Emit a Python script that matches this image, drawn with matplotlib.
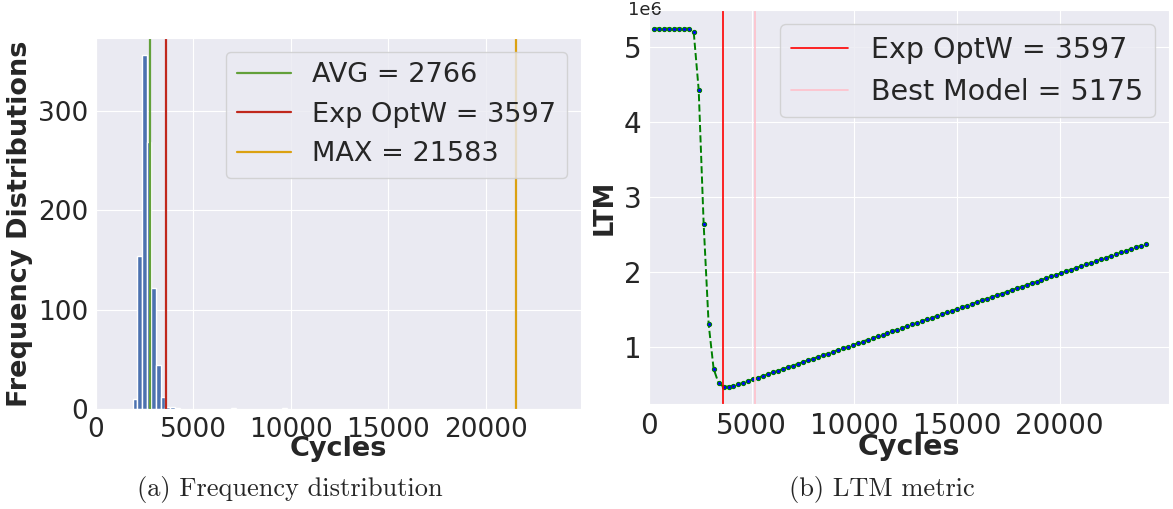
import numpy as np
import matplotlib
matplotlib.use('Agg')
import matplotlib.pyplot as plt
import seaborn as sns

sns.set_style('darkgrid')

# histogram of cycle counts (bin centres and counts)
hist_centers = [2010, 2250, 2490, 2730, 2970, 3210, 3450, 3690, 3930, 4170, 7050, 9690]
hist_counts = [11, 154, 356, 269, 122, 45, 13, 3, 3, 1, 1, 1]
avg_cycles = 2766
exp_optw = 3597
max_cycles = 21583
best_model = 5175

# LTM metric per window size (in units of 1e6)
win_step = 242
ltm_values = [
    5.25, 5.25, 5.25, 5.25, 5.25, 5.25, 5.25, 5.25, 5.20, 4.43,
    2.64, 1.31, 0.715, 0.52, 0.475, 0.476, 0.486, 0.506, 0.529, 0.552,
    0.574, 0.597, 0.620, 0.643, 0.666, 0.689, 0.711, 0.734, 0.757, 0.780,
    0.803, 0.826, 0.848, 0.871, 0.894, 0.917, 0.940, 0.963, 0.985, 1.008,
    1.031, 1.054, 1.077, 1.100, 1.122, 1.145, 1.168, 1.191, 1.214, 1.237,
    1.259, 1.282, 1.305, 1.328, 1.351, 1.374, 1.396, 1.419, 1.442, 1.465,
    1.488, 1.511, 1.533, 1.556, 1.579, 1.602, 1.625, 1.648, 1.670, 1.693,
    1.716, 1.739, 1.762, 1.785, 1.807, 1.830, 1.853, 1.876, 1.899, 1.922,
    1.944, 1.967, 1.990, 2.013, 2.036, 2.059, 2.081, 2.104, 2.127, 2.150,
    2.173, 2.196, 2.218, 2.241, 2.264, 2.287, 2.310, 2.333, 2.355, 2.378,
]
windows = win_step * np.arange(1, len(ltm_values) + 1)
ltm = np.array(ltm_values) * 1e6

fig = plt.figure(figsize=(11.73, 5.09), dpi=100)

# (a) frequency distribution
ax1 = fig.add_axes([0.0818, 0.1955, 0.4135, 0.7298])
ax1.bar(hist_centers, hist_counts, width=240, color='#4C72B0', edgecolor='white', linewidth=1.0)
ax1.axvline(avg_cycles, color='#62a03a', lw=1.6, label='AVG = %d' % avg_cycles)
ax1.axvline(exp_optw, color='#c0281c', lw=1.6, label='Exp OptW = %d' % exp_optw)
ax1.axvline(max_cycles, color='#dba111', lw=1.6, label='MAX = %d' % max_cycles)
ax1.set_xlim(0, 24900)
ax1.set_ylim(0, 373)
ax1.set_xticks([0, 5000, 10000, 15000, 20000])
ax1.set_yticks([0, 100, 200, 300])
ax1.tick_params(labelsize=19, pad=2)
ax1.set_xlabel('Cycles', fontsize=19.5, fontweight='bold', labelpad=-5)
ax1.set_ylabel('Frequency Distributions', fontsize=19.5, fontweight='bold')
ax1.legend(loc='upper right', fontsize=19.5)

# (b) LTM metric
ax2 = fig.add_axes([0.5533, 0.2063, 0.4433, 0.7741])
ax2.plot(windows, ltm, color='green', ls='--', lw=1.4, marker='o', ms=3,
         mfc='blue', mec='green', mew=0.8)
ax2.axvline(exp_optw, color='red', lw=1.2, label='Exp OptW = %d' % exp_optw)
ax2.axvline(best_model, color='pink', lw=1.2, label='Best Model = %d' % best_model)
ax2.set_xlim(0, 25330)
ax2.set_ylim(0.244e6, 5.497e6)
ax2.set_xticks([0, 5000, 10000, 15000, 20000])
ax2.tick_params(labelsize=20, pad=2)
ax2.yaxis.OFFSETTEXTPAD = 0
offset = ax2.yaxis.get_offset_text()
offset.set_fontsize(13)
offset.set_x(-0.04)
offset.set_va('center')
ax2.set_xlabel('Cycles', fontsize=20.5, fontweight='bold', labelpad=-5)
ax2.set_ylabel('LTM', fontsize=18.5, fontweight='bold')
ax2.legend(loc='upper right', fontsize=20.5)

fig.text(0.2468, 0.039, '(a) Frequency distribution', fontsize=19, family='cmr10',
         ha='center', va='center')
fig.text(0.7515, 0.039, '(b) LTM metric', fontsize=19, family='cmr10',
         ha='center', va='center')

fig.savefig('out.png', dpi=100)
